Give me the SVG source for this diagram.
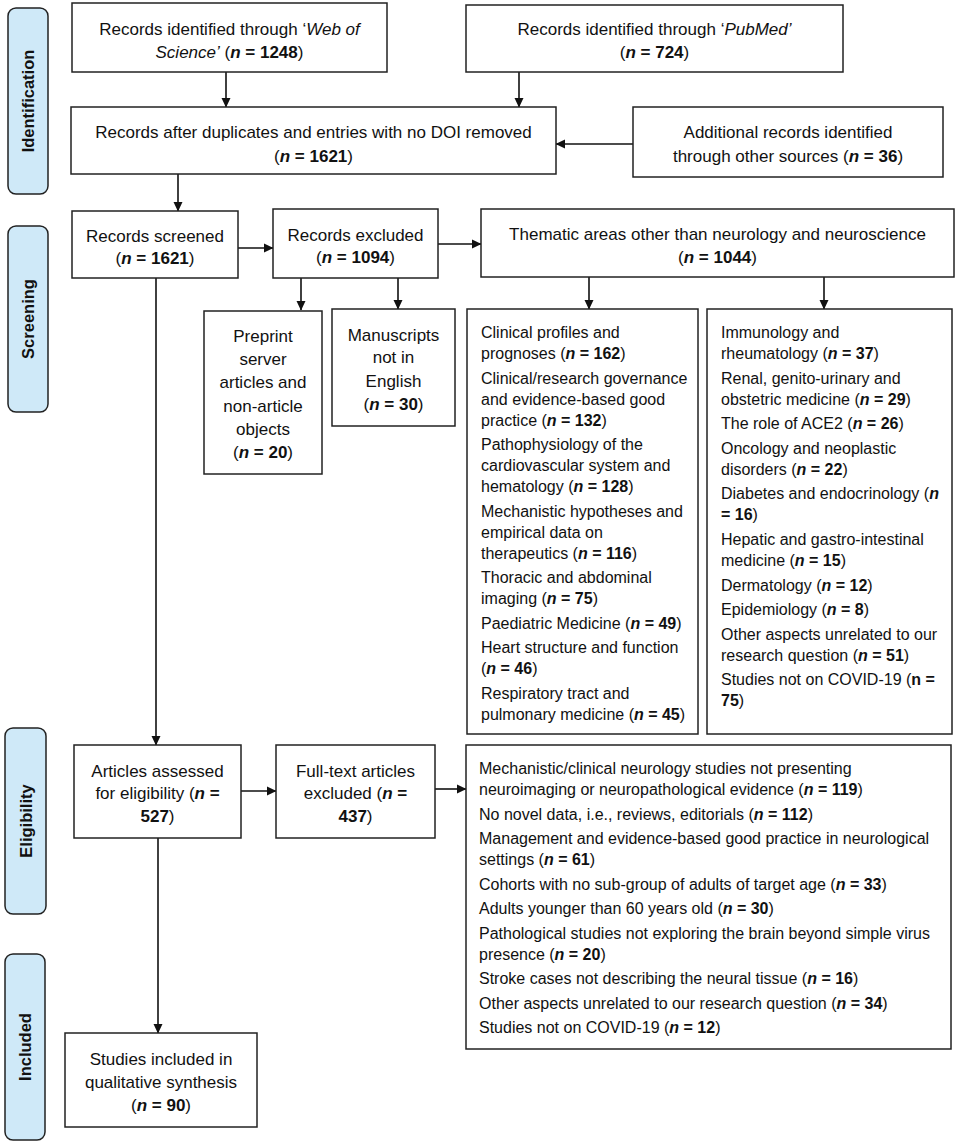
<svg xmlns="http://www.w3.org/2000/svg" width="957" height="1144" viewBox="0 0 957 1144">
<style>
text{font-family:"Liberation Sans",Arial,sans-serif;font-size:17px;fill:#111}
#thematic-left text,#thematic-right text,#eligibility-reasons text{font-size:16px}
.c{text-anchor:middle}
.b{font-weight:bold}
.bi{font-weight:bold;font-style:italic}
.i{font-style:italic}
.box{fill:#fff;stroke:#222;stroke-width:1.5}
.lab{fill:#cfe9f8;stroke:#222;stroke-width:1.5}
text.lt{font-weight:bold;font-size:16.5px;text-anchor:middle}
.ln{fill:none;stroke:#111;stroke-width:1.6}
</style>
<defs>
<marker id="ah" markerWidth="10" markerHeight="10" refX="9" refY="5" orient="auto" markerUnits="userSpaceOnUse">
<path d="M0,0.5 L9.5,5 L0,9.5 Z" fill="#111"/>
</marker>
<clipPath id="clipL"><rect x="467" y="309" width="231" height="414"/></clipPath>
</defs>
<rect width="957" height="1144" fill="#fff"/>

<g id="stage-identification">
<rect class="lab" x="8" y="8" width="40" height="186" rx="8"/>
<text class="lt" transform="translate(34,101) rotate(-90)">Identification</text>
</g>
<g id="stage-screening">
<rect class="lab" x="8" y="226" width="40" height="186" rx="8"/>
<text class="lt" transform="translate(34,319) rotate(-90)">Screening</text>
</g>
<g id="stage-eligibility">
<rect class="lab" x="5" y="728" width="41" height="186" rx="8"/>
<text class="lt" transform="translate(32,821) rotate(-90)">Eligibility</text>
</g>
<g id="stage-included">
<rect class="lab" x="5" y="954" width="40" height="186" rx="8"/>
<text class="lt" transform="translate(31,1047) rotate(-90)">Included</text>
</g>

<g id="connectors">
<line class="ln" x1="226" y1="72" x2="226" y2="107" marker-end="url(#ah)"/>
<line class="ln" x1="519" y1="72" x2="519" y2="107" marker-end="url(#ah)"/>
<line class="ln" x1="633" y1="144" x2="556" y2="144" marker-end="url(#ah)"/>
<line class="ln" x1="178" y1="174" x2="178" y2="211" marker-end="url(#ah)"/>
<line class="ln" x1="238" y1="248" x2="273" y2="248" marker-end="url(#ah)"/>
<line class="ln" x1="438" y1="244" x2="481" y2="244" marker-end="url(#ah)"/>
<line class="ln" x1="301" y1="278" x2="301" y2="310" marker-end="url(#ah)"/>
<line class="ln" x1="398" y1="278" x2="398" y2="309" marker-end="url(#ah)"/>
<line class="ln" x1="589" y1="277" x2="589" y2="309" marker-end="url(#ah)"/>
<line class="ln" x1="824" y1="277" x2="824" y2="309" marker-end="url(#ah)"/>
<line class="ln" x1="156" y1="278" x2="156" y2="745" marker-end="url(#ah)"/>
<line class="ln" x1="241" y1="791" x2="276" y2="791" marker-end="url(#ah)"/>
<line class="ln" x1="435" y1="789" x2="466" y2="789" marker-end="url(#ah)"/>
<line class="ln" x1="158" y1="838" x2="158" y2="1033" marker-end="url(#ah)"/>
</g>

<g id="wos">
<rect class="box" x="72" y="3" width="315" height="69"/>
<text class="c" x="229.5" y="35">Records identified through ‘<tspan class="i">Web of</tspan></text>
<text class="c" x="229.5" y="58"><tspan class="i">Science’</tspan> (<tspan class="bi">n</tspan><tspan class="b"> = 1248</tspan>)</text>
</g>
<g id="pubmed">
<rect class="box" x="466" y="5" width="377" height="67"/>
<text class="c" x="654.5" y="35">Records identified through ‘<tspan class="i">PubMed’</tspan></text>
<text class="c" x="654.5" y="58">(<tspan class="bi">n</tspan><tspan class="b"> = 724</tspan>)</text>
</g>
<g id="dedup">
<rect class="box" x="71" y="107" width="485" height="67"/>
<text class="c" x="313.5" y="138">Records after duplicates and entries with no DOI removed</text>
<text class="c" x="313.5" y="162">(<tspan class="bi">n</tspan><tspan class="b"> = 1621</tspan>)</text>
</g>
<g id="additional">
<rect class="box" x="633" y="107" width="310" height="70"/>
<text class="c" x="788" y="138">Additional records identified</text>
<text class="c" x="788" y="162">through other sources (<tspan class="bi">n</tspan><tspan class="b"> = 36</tspan>)</text>
</g>

<g id="screened">
<rect class="box" x="72" y="211" width="166" height="67"/>
<text class="c" x="155" y="242">Records screened</text>
<text class="c" x="155" y="264">(<tspan class="bi">n</tspan><tspan class="b"> = 1621</tspan>)</text>
</g>
<g id="excluded">
<rect class="box" x="273" y="209" width="165" height="69"/>
<text class="c" x="355.5" y="241">Records excluded</text>
<text class="c" x="355.5" y="263">(<tspan class="bi">n</tspan><tspan class="b"> = 1094</tspan>)</text>
</g>
<g id="thematic">
<rect class="box" x="481" y="209" width="473" height="68"/>
<text class="c" x="717.5" y="240">Thematic areas other than neurology and neuroscience</text>
<text class="c" x="717.5" y="263">(<tspan class="bi">n</tspan><tspan class="b"> = 1044</tspan>)</text>
</g>
<g id="preprint">
<rect class="box" x="204" y="311" width="118" height="163"/>
<text class="c" x="263" y="342">Preprint</text>
<text class="c" x="263" y="365">server</text>
<text class="c" x="263" y="388">articles and</text>
<text class="c" x="263" y="412">non-article</text>
<text class="c" x="263" y="435">objects</text>
<text class="c" x="263" y="458">(<tspan class="bi">n</tspan><tspan class="b"> = 20</tspan>)</text>
</g>
<g id="manuscripts">
<rect class="box" x="332" y="309" width="123" height="117"/>
<text class="c" x="393.5" y="341">Manuscripts</text>
<text class="c" x="393.5" y="363">not in</text>
<text class="c" x="393.5" y="387">English</text>
<text class="c" x="393.5" y="410">(<tspan class="bi">n</tspan><tspan class="b"> = 30</tspan>)</text>
</g>

<g id="thematic-left">
<rect class="box" x="467" y="309" width="231" height="425"/>
<g clip-path="url(#clipL)">
<text x="481" y="338">Clinical profiles and</text>
<text x="481" y="359">prognoses (<tspan class="bi">n</tspan><tspan class="b"> = 162</tspan>)</text>
<text x="481" y="383.5">Clinical/research governance</text>
<text x="481" y="404.6">and evidence-based good</text>
<text x="481" y="425.7">practice (<tspan class="bi">n</tspan><tspan class="b"> = 132</tspan>)</text>
<text x="481" y="450">Pathophysiology of the</text>
<text x="481" y="471">cardiovascular system and</text>
<text x="481" y="492">hematology (<tspan class="bi">n</tspan><tspan class="b"> = 128</tspan>)</text>
<text x="481" y="516.5">Mechanistic hypotheses and</text>
<text x="481" y="537.6">empirical data on</text>
<text x="481" y="558.7">therapeutics (<tspan class="bi">n</tspan><tspan class="b"> = 116</tspan>)</text>
<text x="481" y="583">Thoracic and abdominal</text>
<text x="481" y="604">imaging (<tspan class="bi">n</tspan><tspan class="b"> = 75</tspan>)</text>
<text x="481" y="628.5">Paediatric Medicine (<tspan class="bi">n</tspan><tspan class="b"> = 49</tspan>)</text>
<text x="481" y="653">Heart structure and function</text>
<text x="481" y="674">(<tspan class="bi">n</tspan><tspan class="b"> = 46</tspan>)</text>
<text x="481" y="698.5">Respiratory tract and</text>
<text x="481" y="719.6">pulmonary medicine (<tspan class="bi">n</tspan><tspan class="b"> = 45</tspan>)</text>
</g>
</g>
<g id="thematic-right">
<rect class="box" x="707" y="309" width="245" height="425"/>
<text x="721" y="338">Immunology and</text>
<text x="721" y="359">rheumatology (<tspan class="bi">n</tspan><tspan class="b"> = 37</tspan>)</text>
<text x="721" y="383.5">Renal, genito-urinary and</text>
<text x="721" y="404.6">obstetric medicine (<tspan class="bi">n</tspan><tspan class="b"> = 29</tspan>)</text>
<text x="721" y="429">The role of ACE2 (<tspan class="bi">n</tspan><tspan class="b"> = 26</tspan>)</text>
<text x="721" y="454">Oncology and neoplastic</text>
<text x="721" y="475">disorders (<tspan class="bi">n</tspan><tspan class="b"> = 22</tspan>)</text>
<text x="721" y="499">Diabetes and endocrinology (<tspan class="bi">n</tspan></text>
<text x="721" y="520"><tspan class="b">= 16</tspan>)</text>
<text x="721" y="545">Hepatic and gastro-intestinal</text>
<text x="721" y="566">medicine (<tspan class="bi">n</tspan><tspan class="b"> = 15</tspan>)</text>
<text x="721" y="591">Dermatology (<tspan class="bi">n</tspan><tspan class="b"> = 12</tspan>)</text>
<text x="721" y="615">Epidemiology (<tspan class="bi">n</tspan><tspan class="b"> = 8</tspan>)</text>
<text x="721" y="640">Other aspects unrelated to our</text>
<text x="721" y="661">research question (<tspan class="bi">n</tspan><tspan class="b"> = 51</tspan>)</text>
<text x="721" y="685">Studies not on COVID-19 (<tspan class="b">n =</tspan></text>
<text x="721" y="706"><tspan class="b">75</tspan>)</text>
</g>

<g id="assessed">
<rect class="box" x="74" y="745" width="167" height="93"/>
<text class="c" x="157.5" y="777">Articles assessed</text>
<text class="c" x="157.5" y="799">for eligibility (<tspan class="bi">n</tspan><tspan class="b"> =</tspan></text>
<text class="c" x="157.5" y="822"><tspan class="b">527</tspan>)</text>
</g>
<g id="fulltext">
<rect class="box" x="276" y="745" width="159" height="93"/>
<text class="c" x="355.5" y="777">Full-text articles</text>
<text class="c" x="355.5" y="799">excluded (<tspan class="bi">n</tspan><tspan class="b"> =</tspan></text>
<text class="c" x="355.5" y="822"><tspan class="b">437</tspan>)</text>
</g>
<g id="eligibility-reasons">
<rect class="box" x="466" y="745" width="485" height="304"/>
<text x="479" y="774">Mechanistic/clinical neurology studies not presenting</text>
<text x="479" y="795">neuroimaging or neuropathological evidence (<tspan class="bi">n</tspan><tspan class="b"> = 119</tspan>)</text>
<text x="479" y="820">No novel data, i.e., reviews, editorials (<tspan class="bi">n</tspan><tspan class="b"> = 112</tspan>)</text>
<text x="479" y="844">Management and evidence-based good practice in neurological</text>
<text x="479" y="865">settings (<tspan class="bi">n</tspan><tspan class="b"> = 61</tspan>)</text>
<text x="479" y="890">Cohorts with no sub-group of adults of target age (<tspan class="bi">n</tspan><tspan class="b"> = 33</tspan>)</text>
<text x="479" y="914">Adults younger than 60 years old (<tspan class="bi">n</tspan><tspan class="b"> = 30</tspan>)</text>
<text x="479" y="939">Pathological studies not exploring the brain beyond simple virus</text>
<text x="479" y="960">presence (<tspan class="bi">n</tspan><tspan class="b"> = 20</tspan>)</text>
<text x="479" y="984">Stroke cases not describing the neural tissue (<tspan class="bi">n</tspan><tspan class="b"> = 16</tspan>)</text>
<text x="479" y="1009">Other aspects unrelated to our research question (<tspan class="bi">n</tspan><tspan class="b"> = 34</tspan>)</text>
<text x="479" y="1033">Studies not on COVID-19 (<tspan class="bi">n</tspan><tspan class="b"> = 12</tspan>)</text>
</g>
<g id="included">
<rect class="box" x="65" y="1033" width="192" height="94"/>
<text class="c" x="161" y="1065">Studies included in</text>
<text class="c" x="161" y="1088">qualitative synthesis</text>
<text class="c" x="161" y="1111">(<tspan class="bi">n</tspan><tspan class="b"> = 90</tspan>)</text>
</g>
</svg>
